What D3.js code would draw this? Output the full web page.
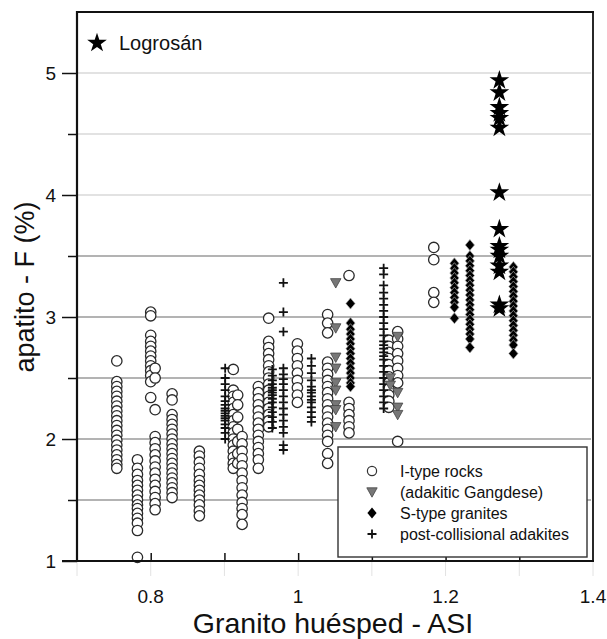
<!DOCTYPE html>
<html><head><meta charset="utf-8">
<script src="https://cdn.jsdelivr.net/npm/d3@7"></script>
<style>body{margin:0;background:#fff}svg{display:block}text{font-family:"Liberation Sans",Arial,sans-serif;fill:#111}</style>
</head><body><svg id="c" width="607" height="639"></svg>
<script>
// ---- data: [ASI, [F values...]] ----
const iTypeRocks = [
  [0.754, [2.64,2.47,2.43,2.39,2.35,2.31,2.27,2.23,2.19,2.15,2.11,2.07,2.03,1.99,1.95,1.91,1.87,1.83,1.79,1.76]],
  [0.782, [1.83,1.76,1.71,1.66,1.62,1.58,1.54,1.5,1.46,1.43,1.39,1.35,1.31,1.25,1.03]],
  [0.800, [3.04,3.01,2.85,2.8,2.76,2.72,2.68,2.64,2.6,2.56,2.52,2.47,2.34]],
  [0.806, [2.58,2.5,2.24,2.02,1.97,1.92,1.87,1.82,1.77,1.72,1.67,1.62,1.57,1.52,1.47,1.42]],
  [0.829, [2.37,2.32,2.2,2.16,2.12,2.08,2.04,2.0,1.96,1.92,1.88,1.84,1.8,1.76,1.72,1.68,1.64,1.6,1.56,1.52]],
  [0.866, [1.9,1.86,1.81,1.76,1.71,1.66,1.62,1.58,1.54,1.5,1.46,1.41,1.37]],
  [0.912, [2.57,2.4,2.35,2.3,2.25,2.2,2.15,2.1,2.05,2.0,1.95,1.9,1.85,1.8,1.76]],
  [0.918, [2.36,2.28,2.18,2.08,1.98,1.88,1.8]],
  [0.924, [2.02,1.96,1.9,1.84,1.78,1.72,1.66,1.6,1.54,1.48,1.43,1.38,1.3]],
  [0.946, [2.43,2.38,2.33,2.28,2.23,2.18,2.13,2.08,2.03,1.98,1.93,1.88,1.83,1.76]],
  [0.960, [2.99,2.8,2.75,2.7,2.65,2.6,2.55,2.5,2.45,2.4,2.35,2.3,2.25,2.2,2.15,2.1]],
  [0.999, [2.78,2.72,2.66,2.6,2.54,2.48,2.42,2.36,2.3]],
  [1.040, [3.02,2.95,2.87,2.63,2.58,2.53,2.48,2.43,2.38,2.33,2.28,2.23,2.18,2.13,2.08,2.03,1.98,1.88,1.8]],
  [1.069, [3.34,2.3,2.25,2.2,2.15,2.1,2.05]],
  [1.123, [2.81,2.76,2.71,2.66,2.61,2.56,2.51,2.46,2.41,2.36,2.31,2.26]],
  [1.135, [2.88,2.82,2.76,2.7,2.64,2.58,2.52,2.46,1.98]],
  [1.184, [3.57,3.47,3.2,3.12]]
];
const adakiticGangdese = [
  [1.051, [3.28,2.91,2.67,2.58,2.46,2.4,2.28,2.24,2.1]],
  [1.125, [2.5,2.44]],
  [1.135, [2.84,2.38,2.26,2.2]]
];
const sTypeGranites = [
  [1.071, [3.11,2.95,2.9,2.86,2.82,2.78,2.74,2.7,2.66,2.62,2.58,2.54,2.5,2.46,2.43]],
  [1.212, [3.44,3.4,3.36,3.32,3.28,3.24,3.2,3.16,3.12,3.08,2.99]],
  [1.233, [3.59,3.5,3.46,3.42,3.38,3.34,3.3,3.26,3.22,3.18,3.14,3.1,3.06,3.02,2.98,2.94,2.9,2.86,2.82,2.75]],
  [1.292, [3.41,3.37,3.33,3.29,3.25,3.21,3.17,3.13,3.09,3.05,3.01,2.97,2.93,2.89,2.85,2.81,2.77,2.7]]
];
const postCollisionalAdakites = [
  [0.901, [2.58,2.5,2.45,2.4,2.35,2.31,2.28,2.25,2.23,2.21,2.19,2.17,2.15,2.12,2.09,2.05,2.0]],
  [0.965, [2.57,2.52,2.48,2.45,2.42,2.4,2.38,2.36,2.33,2.3,2.26,2.22,2.18,2.14,2.09]],
  [0.980, [3.28,3.04,2.88,2.58,2.53,2.49,2.45,2.4,2.35,2.3,2.25,2.2,2.15,2.1,2.05,1.95,1.91]],
  [1.018, [2.66,2.6,2.54,2.48,2.43,2.4,2.38,2.35,2.32,2.3,2.26,2.22,2.18,2.14]],
  [1.116, [3.4,3.35,3.26,3.2,3.15,3.1,3.05,3.0,2.95,2.9,2.85,2.8,2.77,2.74,2.71,2.68,2.65,2.6,2.55,2.5,2.45,2.4,2.35,2.3,2.25]]
];
const logrosan = [
  [1.273, [4.94,4.84,4.72,4.67,4.63,4.55,4.02,3.72,3.58,3.55,3.5,3.42,3.37,3.1,3.07]]
];
const xTicks = [0.8, 1.0, 1.2, 1.4];
const xMinorTicks = [0.7, 0.8, 0.9, 1.0, 1.1, 1.2, 1.3, 1.4];
const yTicks = [1, 2, 3, 4, 5];
const yGrid = [1.5, 2, 2.5, 3, 3.5, 4, 4.5, 5];
const legendLabels = ["I-type rocks", "(adakitic Gangdese)", "S-type granites", "post-collisional adakites"];
const xTitle = "Granito huésped - ASI";
const yTitle = "apatito - F (%)";
const starLabel = "Logrosán";

// ---- drawing ----
const L = 77, T = 12, R = 593, B = 561;
const svg = d3.select("#c");
const x = d3.scaleLinear().domain([0.7, 1.4]).range([L, R]);
const y = d3.scaleLinear().domain([1, 5.5]).range([B, T]);
const flat = s => s.flatMap(([xv, ys]) => ys.map(yv => ({x: xv, y: yv})));

// grid
svg.append("g").selectAll("line").data(yGrid).join("line")
  .attr("x1", L).attr("x2", R - 2).attr("y1", d => y(d)).attr("y2", d => y(d))
  .attr("stroke", d => d >= 4 ? "#d9d9d9" : "#9a9a9a").attr("stroke-width", 1.4);

// faint lines below x axis
svg.append("g").selectAll("line").data(xMinorTicks).join("line")
  .attr("x1", d => x(d)).attr("x2", d => x(d)).attr("y1", B).attr("y2", B + 15)
  .attr("stroke", "#e2e2e2").attr("stroke-width", 1);

// symbols
const shapes = {
  plus: "M-4.5,0H4.5M0,-4.5V4.5",
  diamond: "M0,-5.5L4.6,0L0,5.5L-4.6,0Z",
  tri: "M-5.2,-4.2L5.2,-4.2L0,5.2Z"
};
const gp = svg.append("g");
gp.selectAll(".ci").data(flat(iTypeRocks)).join("circle")
  .attr("cx", d => x(d.x)).attr("cy", d => y(d.y)).attr("r", 5.2)
  .attr("fill", "#fff").attr("stroke", "#2a2a2a").attr("stroke-width", 1.3);
gp.selectAll(".pl").data(flat(postCollisionalAdakites)).join("path")
  .attr("transform", d => `translate(${x(d.x)},${y(d.y)})`).attr("d", shapes.plus)
  .attr("stroke", "#111").attr("stroke-width", 1.8).attr("fill", "none");
gp.selectAll(".tr").data(flat(adakiticGangdese)).join("path")
  .attr("transform", d => `translate(${x(d.x)},${y(d.y)})`).attr("d", shapes.tri)
  .attr("fill", "#777").attr("stroke", "#444").attr("stroke-width", 0.8);
gp.selectAll(".di").data(flat(sTypeGranites)).join("path")
  .attr("transform", d => `translate(${x(d.x)},${y(d.y)})`).attr("d", shapes.diamond)
  .attr("fill", "#000").attr("stroke", "#aaa").attr("stroke-width", 0.7);
const star = d3.symbol().type(d3.symbolStar).size(120);
gp.selectAll(".st").data(flat(logrosan)).join("path")
  .attr("transform", d => `translate(${x(d.x)},${y(d.y)})`).attr("d", star())
  .attr("fill", "#000");

// frame
svg.append("line").attr("x1", L).attr("x2", R + 1).attr("y1", T).attr("y2", T).attr("stroke", "#111").attr("stroke-width", 1.8);
svg.append("line").attr("x1", R).attr("x2", R).attr("y1", T).attr("y2", B).attr("stroke", "#111").attr("stroke-width", 1.8);

// x axis
const xa = svg.append("g").attr("transform", `translate(0,${B})`)
  .call(d3.axisBottom(x).tickValues(xMinorTicks.filter(d => d > 0.7 && d < 1.4)).tickSize(-8).tickFormat(""));
xa.select(".domain").remove();
xa.selectAll("line").attr("stroke", "#111").attr("stroke-width", 1.5);
svg.append("line").attr("x1", L - 15).attr("x2", R + 1).attr("y1", B).attr("y2", B).attr("stroke", "#111").attr("stroke-width", 2);
svg.append("g").selectAll("text").data(xTicks).join("text")
  .attr("x", d => x(d)).attr("y", 603).attr("text-anchor", "middle").attr("font-size", 19)
  .text(d => d3.format("")(+d.toFixed(1)));

// y axis
const ya = svg.append("g").attr("transform", `translate(${L},0)`)
  .call(d3.axisLeft(y).tickValues(yGrid.filter(d => d % 1 !== 0)).tickSize(9).tickFormat(""));
ya.select(".domain").remove();
ya.selectAll("line").attr("stroke", "#111").attr("stroke-width", 1.5);
const ya2 = svg.append("g").attr("transform", `translate(${L},0)`)
  .call(d3.axisLeft(y).tickValues(yTicks).tickSize(15).tickPadding(6).tickFormat(d3.format("d")));
ya2.select(".domain").remove();
ya2.selectAll("line").attr("stroke", "#111").attr("stroke-width", 1.5);
ya2.selectAll("text").attr("font-size", 19).attr("fill", "#111")
  .attr("font-family", '"Liberation Sans",Arial,sans-serif');
svg.append("line").attr("x1", L).attr("x2", L).attr("y1", T - 1).attr("y2", B + 1).attr("stroke", "#111").attr("stroke-width", 2.2);

// titles
svg.append("text").attr("x", (L + R) / 2 - 2).attr("y", 633).attr("text-anchor", "middle")
  .attr("font-size", 28.5).text(xTitle);
svg.append("text").attr("transform", "translate(34,287) rotate(-90)").attr("text-anchor", "middle")
  .attr("font-size", 27).text(yTitle);

// Logrosán label
svg.append("path").attr("transform", "translate(97,43)").attr("d", star()).attr("fill", "#000");
svg.append("text").attr("x", 119).attr("y", 50).attr("font-size", 20).text(starLabel);

// legend
const lg = svg.append("g");
lg.append("rect").attr("x", 338).attr("y", 447).attr("width", 249).attr("height", 110)
  .attr("fill", "#fff").attr("stroke", "#333").attr("stroke-width", 1.4);
const rowsY = [471, 492, 513, 534];
lg.append("circle").attr("cx", 372).attr("cy", rowsY[0]).attr("r", 4.6).attr("fill", "#fff").attr("stroke", "#333").attr("stroke-width", 1.2);
lg.append("path").attr("transform", `translate(372,${rowsY[1]})`).attr("d", shapes.tri).attr("fill", "#777").attr("stroke", "#444").attr("stroke-width", 0.8);
lg.append("path").attr("transform", `translate(372,${rowsY[2]})`).attr("d", shapes.diamond).attr("fill", "#000");
lg.append("path").attr("transform", `translate(372,${rowsY[3]})`).attr("d", shapes.plus).attr("stroke", "#111").attr("stroke-width", 1.8);
lg.selectAll("text").data(legendLabels).join("text")
  .attr("x", 400).attr("y", (d, i) => rowsY[i] + 5.5).attr("font-size", 16).text(d => d);
</script></body></html>
